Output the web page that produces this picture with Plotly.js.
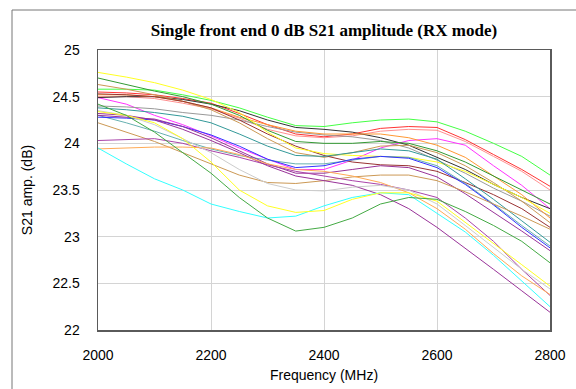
<!DOCTYPE html>
<html><head><meta charset="utf-8">
<script src="https://cdn.plot.ly/plotly-3.0.1.min.js"></script>
<style>html,body{margin:0;padding:0;background:#fff;}#chart{width:576px;height:389px;}</style>
</head><body><div id="chart"></div>
<script>
// Frequency points (MHz)
const freqMHz = [2000,2050,2100,2150,2200,2250,2300,2350,2400,2450,2500,2550,2600,2650,2700,2750,2800];
// S21 amplitude (dB) per front end
const feLime      = [24.58,24.58,24.57,24.52,24.46,24.38,24.28,24.19,24.18,24.22,24.25,24.26,24.23,24.13,24.00,23.86,23.66];
const feRed       = [24.55,24.54,24.52,24.48,24.43,24.32,24.20,24.10,24.07,24.10,24.16,24.18,24.17,24.04,23.88,23.72,23.54];
const feSalmon    = [24.50,24.50,24.48,24.43,24.37,24.27,24.15,24.08,24.06,24.08,24.13,24.15,24.14,24.02,23.86,23.70,23.50];
const feMagenta   = [24.49,24.42,24.30,24.20,24.08,23.95,23.83,23.72,23.72,23.82,23.95,24.03,24.05,23.98,23.76,23.55,23.30];
const feBlack     = [24.49,24.50,24.50,24.47,24.42,24.35,24.25,24.17,24.15,24.12,24.06,23.98,23.85,23.72,23.56,23.42,23.30];
const feGray      = [24.40,24.39,24.37,24.33,24.30,24.25,24.18,24.12,24.09,24.07,24.03,23.95,23.82,23.68,23.52,23.38,23.22];
const feOrange    = [24.52,24.52,24.50,24.45,24.38,24.28,24.20,24.13,24.10,24.10,24.10,24.06,23.98,23.85,23.65,23.45,23.20];
const feDarkGreen = [24.70,24.63,24.56,24.50,24.42,24.30,24.14,24.02,24.00,24.00,24.02,24.00,23.92,23.80,23.65,23.50,23.35];
const feTan       = [24.63,24.58,24.52,24.45,24.36,24.22,24.05,23.90,23.85,23.90,23.97,23.98,23.90,23.76,23.58,23.38,23.15];
const feBrown     = [24.53,24.52,24.50,24.45,24.38,24.25,24.10,23.97,23.87,23.80,23.77,23.76,23.70,23.58,23.45,23.30,23.10];
const feYellow    = [24.76,24.71,24.65,24.57,24.47,24.33,24.12,23.95,23.89,23.87,23.86,23.85,23.80,23.70,23.56,23.42,23.25];
const feTeal      = [24.38,24.36,24.33,24.29,24.22,24.10,23.97,23.87,23.86,23.90,23.94,23.92,23.83,23.62,23.40,23.17,22.94];
const feTeal2     = [24.30,24.22,24.13,24.03,23.94,23.87,23.82,23.78,23.78,23.82,23.86,23.85,23.76,23.57,23.35,23.12,22.90];
const feBlue      = [24.28,24.27,24.25,24.18,24.09,23.97,23.83,23.74,23.76,23.83,23.86,23.84,23.74,23.56,23.34,23.10,22.88];
const fePurple    = [24.30,24.28,24.26,24.18,24.06,23.92,23.78,23.68,23.68,23.72,23.76,23.74,23.64,23.46,23.26,23.06,22.85];
const feTan2      = [24.22,24.12,24.02,23.90,23.78,23.66,23.58,23.57,23.60,23.64,23.66,23.66,23.60,23.48,23.35,23.22,23.08];
const fePurple2   = [24.03,24.04,24.05,24.00,23.92,23.85,23.77,23.70,23.65,23.60,23.56,23.50,23.42,23.20,22.95,22.65,22.37];
const fePurple3   = [24.32,24.30,24.25,24.15,24.03,23.90,23.76,23.65,23.60,23.55,23.45,23.30,23.10,22.88,22.65,22.42,22.19];
const feOrange2   = [23.94,23.95,23.96,23.96,23.95,23.88,23.78,23.72,23.70,23.65,23.58,23.47,23.30,23.08,22.82,22.58,22.38];
const feLightGray = [24.35,24.30,24.20,24.05,23.90,23.72,23.57,23.50,23.49,23.53,23.55,23.50,23.35,23.12,22.88,22.65,22.44];
const feCyan      = [23.95,23.78,23.62,23.50,23.35,23.27,23.20,23.22,23.33,23.42,23.47,23.45,23.25,23.05,22.80,22.52,22.25];
const feYellow2   = [24.34,24.30,24.22,24.05,23.80,23.50,23.33,23.26,23.28,23.40,23.47,23.47,23.38,23.15,22.93,22.70,22.47];
const feSeaGreen  = [24.42,24.30,24.12,23.90,23.68,23.42,23.20,23.06,23.10,23.20,23.35,23.42,23.40,23.27,23.12,22.95,22.72];

const seriesList = [feLime,feRed,feSalmon,feMagenta,feBlack,feGray,feOrange,feDarkGreen,feTan,feBrown,feYellow,feTeal,feTeal2,feBlue,fePurple,feTan2,fePurple2,fePurple3,feOrange2,feLightGray,feCyan,feYellow2,feSeaGreen];
const colorList = ['#44ff44','#ff3333','#ff9090','#ff33ff','#333333','#999999','#ff9933','#339933','#cc9955','#993333','#ffff22','#339999','#66b0b0','#3333ff','#993399','#cc9955','#aa44aa','#993399','#ffaa55','#cccccc','#33ffff','#ffff22','#44aa44'];

const traces = seriesList.map((ys,i)=>({
  x: freqMHz, y: ys, type:'scatter', mode:'lines',
  line:{color:colorList[i], width:1}, hoverinfo:'skip'
}));

const font = {family:'Liberation Sans, Arial, sans-serif', size:14, color:'#000'};
const layout = {
  width:576, height:389,
  margin:{l:98, r:26, t:50, b:59},
  paper_bgcolor:'#fff', plot_bgcolor:'#fff',
  showlegend:false,
  font: font,
  title:{text:'<b>Single front end 0 dB S21 amplitude (RX mode)</b>',
    font:{family:'Liberation Serif, Times New Roman, serif', size:17, color:'#000'},
    x:0.5, xref:'paper', xanchor:'center', y:1-30/389, yref:'container', yanchor:'middle'},
  xaxis:{range:[2000,2800], dtick:200, tick0:2000, showgrid:true, gridcolor:'#d4d4d4', gridwidth:1,
    showline:true, mirror:true, linecolor:'#5a5a5a', linewidth:1.5, zeroline:false, ticks:'',
    ticklabelstandoff:12, tickfont:font,
    title:{text:'Frequency (MHz)', font:font, standoff:8}},
  yaxis:{range:[22,25], dtick:0.5, tick0:22, showgrid:true, gridcolor:'#d4d4d4', gridwidth:1,
    showline:true, mirror:true, linecolor:'#5a5a5a', linewidth:1.5, zeroline:false, ticks:'',
    ticklabelstandoff:14, tickfont:font,
    title:{text:'S21 amp. (dB)', font:font, standoff:16}},
  shapes:[{type:'rect', xref:'paper', yref:'paper', x0:(12-98)/452, x1:(590-98)/452, y0:(330-400)/280, y1:(330-10)/280,
    line:{color:'#777', width:1}, fillcolor:'rgba(0,0,0,0)', layer:'below'}]
};
Plotly.newPlot('chart', traces, layout, {staticPlot:true, displayModeBar:false});
</script></body></html>
